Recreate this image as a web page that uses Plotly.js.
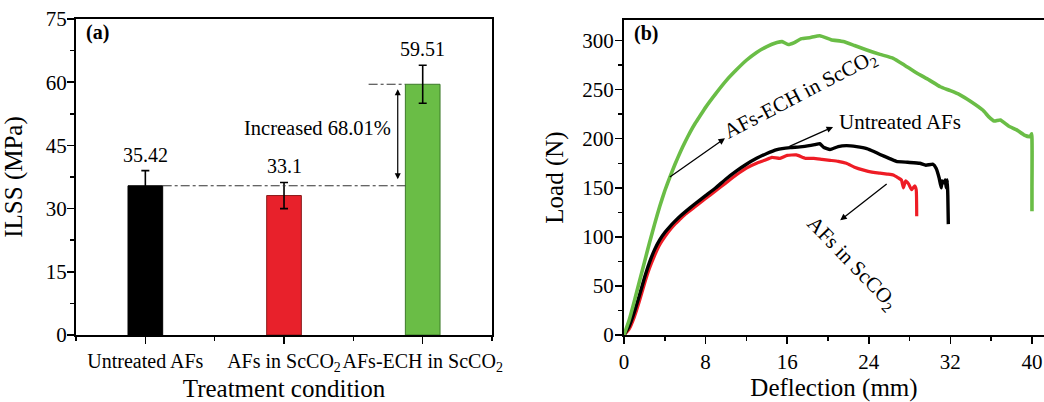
<!DOCTYPE html>
<html>
<head>
<meta charset="utf-8">
<script src="https://cdn.plot.ly/plotly-3.0.1.min.js"></script>
<style>html,body{margin:0;padding:0;background:#fff;}#chart{width:1044px;height:402px;}</style>
</head>
<body>
<div id="chart"></div>
<script>
// ---- Panel (a) data ----
const categories = ["Untreated AFs", "AFs in ScCO<sub>2</sub>", "AFs-ECH in ScCO<sub>2</sub>"];
const ilssValues = [35.42, 33.1, 59.51];
const ilssErrors = [3.6, 3.1, 4.5];
const ilssLabels = ["35.42", "33.1", "59.51"];
const barColors = ["#000000", "#e8212b", "#6abd46"];
const barEdgeColors = ["#000000", "#8a1a1a", "#3d7a2a"];
const increaseLabel = "Increased 68.01%";

// ---- Panel (b) data ----
const untreatedX = [0, 0.5, 1, 1.5, 2, 2.5, 3, 3.5, 4, 4.5, 5, 5.5, 6, 7, 8, 9, 10, 11, 12, 13, 14, 15, 15.5, 16.3, 17.5, 18.7, 19.2, 19.6, 20.2, 21.0, 21.8, 22.8, 23.8, 24.5, 25.1, 26.0, 26.7, 27.8, 29.0, 29.6, 30.3, 30.6, 30.9, 31.1, 31.2, 31.4, 31.5, 31.6, 31.7, 31.75, 31.8];
const untreatedY = [0, 9, 23, 40, 58, 74, 87, 97, 104.5, 110.5, 116, 121, 125.5, 134, 142, 150, 159, 167, 174, 180, 185, 189, 190, 191, 192, 194, 195, 191, 189, 192, 193, 192, 190, 187, 184, 180, 177, 176, 175, 173, 174, 170, 160, 150, 157, 155, 158, 150, 158, 142, 113];

const scco2X = [0, 0.5, 1, 1.5, 2, 2.5, 3, 3.5, 4, 4.5, 5, 5.5, 6, 7, 8, 9, 10, 11, 12, 13, 13.8, 14.5, 15.3, 16.0, 16.9, 17.8, 18.6, 19.4, 20.2, 21.0, 21.8, 22.6, 23.5, 24.3, 25.1, 25.8, 26.4, 26.9, 27.2, 27.4, 27.6, 27.9, 28.2, 28.5, 28.65, 28.7];
const scco2Y = [0, 6, 18, 34, 52, 68, 81, 92, 100, 107, 113, 118, 123, 131, 139, 147, 155, 163, 170, 175, 178, 181, 180, 183, 183.5, 180, 180, 179, 178, 177, 175, 171, 168, 166, 165, 164, 163, 160, 158, 150, 157, 154, 148, 152, 148, 121];

const echX = [0, 0.5, 1, 1.5, 2, 2.5, 3, 3.5, 4, 4.5, 5, 5.5, 6, 6.5, 7, 7.5, 8, 9, 10, 11, 12, 13, 14, 15, 15.5, 16.1, 16.7, 17.4, 18.2, 19.2, 20.3, 21.5, 22.6, 23.8, 25.1, 26.4, 27.5, 28.7, 29.9, 31.0, 32.0, 32.9, 34.0, 35.2, 35.8, 36.3, 36.9, 37.7, 38.5, 39.2, 39.8, 39.97, 40.0, 40.0];
const echY = [0, 15, 34, 54, 74, 94, 113, 131, 147, 161, 174, 186, 197, 207, 216, 224, 232, 246, 259, 270, 280, 288, 294, 298, 299, 296, 298, 302, 303, 305, 301, 299, 295, 290.5, 286, 282, 275, 267, 260, 253, 249, 245, 238, 229, 222, 218, 219, 213, 209, 204, 202, 205, 150, 126];

const seriesNames = ["Untreated AFs", "AFs in ScCO<sub>2</sub>", "AFs-ECH in ScCO<sub>2</sub>"];

const FONT = "Liberation Serif, Times New Roman, serif";
const barWidth = 0.25;

const traces = [
  {
    type: "bar", x: [0, 1, 2], y: ilssValues, width: barWidth,
    marker: {color: barColors, line: {color: barEdgeColors, width: 1}},
    error_y: {type: "data", array: ilssErrors, visible: true, color: "#000", thickness: 1.6, width: 4},
    xaxis: "x", yaxis: "y", showlegend: false, hoverinfo: "skip"
  },
  {type: "scatter", mode: "lines", x: scco2X, y: scco2Y, name: seriesNames[1],
   line: {color: "#ee1c25", width: 3.2, shape: "spline", smoothing: 0.4}, xaxis: "x2", yaxis: "y2", showlegend: false},
  {type: "scatter", mode: "lines", x: untreatedX, y: untreatedY, name: seriesNames[0],
   line: {color: "#000000", width: 3.4, shape: "spline", smoothing: 0.4}, xaxis: "x2", yaxis: "y2", showlegend: false},
  {type: "scatter", mode: "lines", x: echX, y: echY, name: seriesNames[2],
   line: {color: "#6abd46", width: 3.6, shape: "spline", smoothing: 0.4}, xaxis: "x2", yaxis: "y2", showlegend: false}
];

const annotations = [];
for (let i = 0; i < ilssValues.length; i++) {
  annotations.push({x: i, y: ilssValues[i] + ilssErrors[i], xref: "x", yref: "y",
    text: ilssLabels[i], showarrow: false, yanchor: "bottom", yshift: 3,
    font: {family: FONT, size: 20, color: "#000"}});
}
annotations.push({x: 1.24, y: 49.1, xref: "x", yref: "y", text: increaseLabel, showarrow: false,
  font: {family: FONT, size: 20.5, color: "#000"}});
annotations.push({x: 1.82, y: ilssValues[2], ax: 1.82, ay: ilssValues[0], xref: "x", yref: "y",
  axref: "x", ayref: "y", text: "", showarrow: true, arrowhead: 2, startarrowhead: 2,
  arrowside: "end+start", arrowsize: 1, arrowwidth: 1.2, arrowcolor: "#000", standoff: 5, startstandoff: 5});
annotations.push({x: 0.02, y: 1, xref: "x domain", yref: "y domain", text: "<b>(a)</b>",
  showarrow: false, xanchor: "left", yanchor: "top", font: {family: FONT, size: 20, color: "#000"}});

annotations.push({x: 0.02, y: 1, xref: "x2 domain", yref: "y2 domain", text: "<b>(b)</b>",
  showarrow: false, xanchor: "left", yanchor: "top", font: {family: FONT, size: 20, color: "#000"}});
annotations.push({x: 9.9, y: 200.5, ax: 4.35, ay: 160, xref: "x2", yref: "y2", axref: "x2", ayref: "y2",
  text: "", showarrow: true, arrowhead: 2, arrowsize: 1, arrowwidth: 1.3, arrowcolor: "#000"});
annotations.push({x: 20.5, y: 212, ax: 16.08, ay: 191.6, xref: "x2", yref: "y2", axref: "x2", ayref: "y2",
  text: "", showarrow: true, arrowhead: 2, arrowsize: 1, arrowwidth: 1.3, arrowcolor: "#000"});
annotations.push({x: 21.2, y: 117, ax: 25.9, ay: 155, xref: "x2", yref: "y2", axref: "x2", ayref: "y2",
  text: "", showarrow: true, arrowhead: 2, arrowsize: 1, arrowwidth: 1.3, arrowcolor: "#000"});
annotations.push({x: 17.25, y: 245, xref: "x2", yref: "y2", text: seriesNames[2], showarrow: false,
  textangle: -27.5, font: {family: FONT, size: 21, color: "#000"}});
annotations.push({x: 27.06, y: 217, xref: "x2", yref: "y2", text: seriesNames[0], showarrow: false,
  font: {family: FONT, size: 21, color: "#000"}});
annotations.push({x: 22.3, y: 73, xref: "x2", yref: "y2", text: seriesNames[1], showarrow: false,
  textangle: 46, font: {family: FONT, size: 21, color: "#000"}});

const shapes = [
  {type: "line", xref: "x", yref: "y", x0: barWidth / 2, x1: 2 - barWidth / 2, y0: ilssValues[0], y1: ilssValues[0],
   line: {color: "#333", width: 1.2, dash: "dashdot"}},
  {type: "line", xref: "x", yref: "y", x0: 1.61, x1: 2 - barWidth / 2, y0: ilssValues[2], y1: ilssValues[2],
   line: {color: "#333", width: 1.2, dash: "dashdot"}}
];

const axCommon = {
  showline: true, linecolor: "#000", linewidth: 2, mirror: true, showgrid: false, zeroline: false,
  ticks: "outside", ticklen: 7, tickwidth: 1.5, tickcolor: "#000", tickangle: 0,
  tickfont: {family: FONT, size: 21, color: "#000"}
};

const layout = {
  width: 1044, height: 402,
  margin: {l: 0, r: 0, t: 0, b: 0},
  paper_bgcolor: "#fff", plot_bgcolor: "#fff",
  font: {family: FONT, color: "#000"},
  xaxis: Object.assign({}, axCommon, {
    domain: [0.0728, 0.4713], range: [-0.5, 2.5], anchor: "y",
    tickmode: "array", tickvals: [0, 1, 2], ticktext: categories,
    tickfont: {family: FONT, size: 20, color: "#000"},
    minor: {tickmode: "array", tickvals: [-0.5, 0.5, 1.5, 2.5], ticks: "outside", ticklen: 4, tickwidth: 1.5, tickcolor: "#000"},
    title: {text: "Treatment condition", font: {family: FONT, size: 25, color: "#000"}},
    ticklabeloverflow: "allow"
  }),
  yaxis: Object.assign({}, axCommon, {
    domain: [0.1667, 0.9527], range: [0, 75], anchor: "x", dtick: 15, tick0: 0,
    minor: {dtick: 7.5, ticks: "outside", ticklen: 4, tickwidth: 1.5, tickcolor: "#000"},
    ticklabelstandoff: -4,
    title: {text: "ILSS (MPa)", font: {family: FONT, size: 25, color: "#000"}}
  }),
  xaxis2: Object.assign({}, axCommon, {
    domain: [0.5977, 1], range: [0, 41.18], anchor: "y2", dtick: 8, tick0: 0,
    minor: {dtick: 4, ticks: "outside", ticklen: 4, tickwidth: 1.5, tickcolor: "#000"},
    title: {text: "Deflection (mm)", font: {family: FONT, size: 25, color: "#000"}},
    ticklabeloverflow: "allow"
  }),
  yaxis2: Object.assign({}, axCommon, {
    domain: [0.1667, 0.9502], range: [0, 321], anchor: "x2", dtick: 50, tick0: 0,
    minor: {dtick: 25, ticks: "outside", ticklen: 4, tickwidth: 1.5, tickcolor: "#000"},
    ticklabelstandoff: -3,
    title: {text: "Load (N)", font: {family: FONT, size: 25, color: "#000"}}
  }),
  annotations: annotations,
  shapes: shapes
};

Plotly.newPlot("chart", traces, layout, {displayModeBar: false, staticPlot: true});
</script>
</body>
</html>
